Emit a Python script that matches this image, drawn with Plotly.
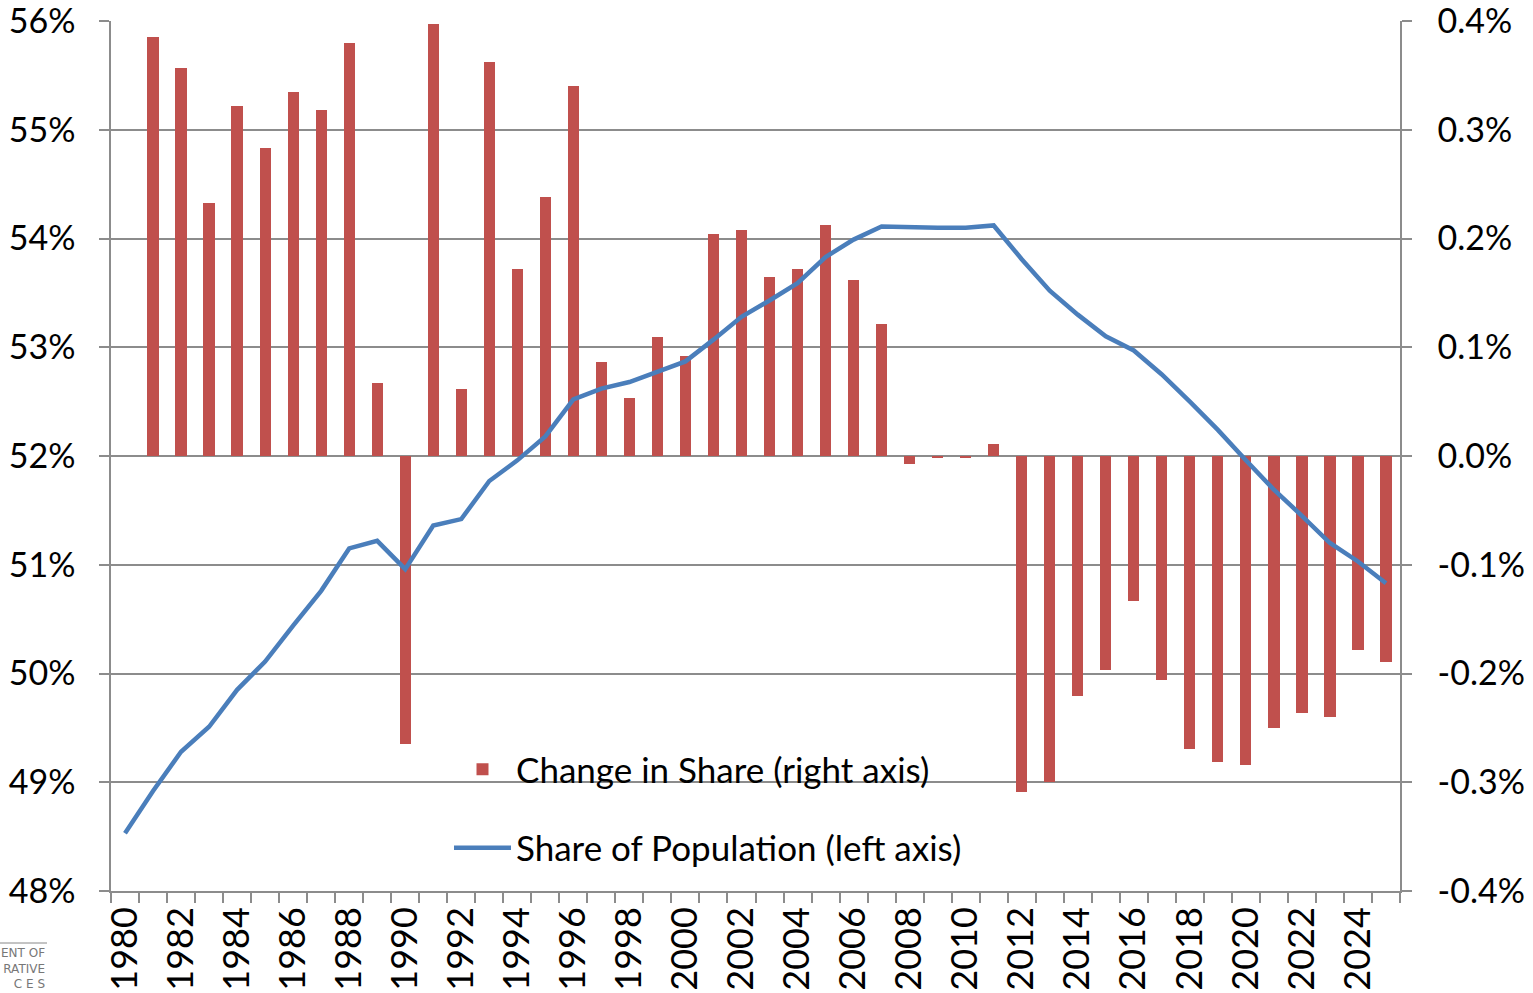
import plotly.graph_objects as go

years = list(range(1980, 2026))

change_in_share = [
    None, 0.385, 0.357, 0.233, 0.322, 0.283, 0.335, 0.318, 0.380, 0.067,
    -0.265, 0.397, 0.062, 0.362, 0.172, 0.238, 0.340, 0.086, 0.053, 0.109,
    0.092, 0.204, 0.208, 0.165, 0.172, 0.212, 0.162, 0.121, -0.007, -0.001,
    -0.001, 0.011, -0.309, -0.300, -0.221, -0.197, -0.133, -0.206, -0.269, -0.281,
    -0.284, -0.250, -0.236, -0.240, -0.178, -0.189,
]

share_of_population = [
    48.53, 48.92, 49.28, 49.51, 49.85, 50.11, 50.44, 50.76, 51.15, 51.22,
    50.96, 51.36, 51.42, 51.77, 51.96, 52.18, 52.52, 52.62, 52.68, 52.78,
    52.87, 53.07, 53.28, 53.43, 53.59, 53.83, 53.99, 54.11, 54.10, 54.10,
    54.10, 54.12, 53.81, 53.52, 53.30, 53.10, 52.97, 52.75, 52.50, 52.24,
    51.96, 51.69, 51.45, 51.20, 51.03, 50.83,
]

x_tick_years = list(range(1980, 2026, 2))
x_tick_labels = [str(y) for y in x_tick_years]

left_ticks = [48, 49, 50, 51, 52, 53, 54, 55, 56]
left_labels = ["48%", "49%", "50%", "51%", "52%", "53%", "54%", "55%", "56%"]

right_ticks = [-0.4, -0.3, -0.2, -0.1, 0.0, 0.1, 0.2, 0.3, 0.4]
right_labels = ["-0.4%", "-0.3%", "-0.2%", "-0.1%", "0.0%", "0.1%", "0.2%", "0.3%", "0.4%"]

FONT = "Lato, Carlito, 'Open Sans', sans-serif"
GRID = "#8C8C8C"

L, R, T, B = 111, 133, 21, 102
PW, PH = 1533 - L - R, 993 - T - B


def px_x(px):
    return (px - L) / PW


def px_y(py):
    return (T + PH - py) / PH


fig = go.Figure()

fig.add_trace(go.Bar(
    x=years, y=change_in_share,
    name="Change in Share (right axis)",
    marker=dict(color="#C0504D", line=dict(width=0)),
    width=0.4,
    yaxis="y",
    legendgroup="a",
))

fig.add_trace(go.Scatter(
    x=years, y=share_of_population,
    name="Share of Population (left axis)",
    mode="lines",
    line=dict(color="#4A7EBB", width=4.5),
    yaxis="y2",
    legendgroup="b",
))

fig.update_layout(
    width=1533, height=993,
    margin=dict(l=L, r=R, t=T, b=B, autoexpand=False),
    paper_bgcolor="white",
    plot_bgcolor="white",
    font=dict(family=FONT, size=34, color="black"),
    showlegend=True,
    bargap=0,
    xaxis=dict(
        range=[1979.5, 2025.5],
        tickmode="array",
        tickvals=x_tick_years,
        ticktext=x_tick_labels,
        tickangle=-90,
        ticks="",
        showgrid=False,
        zeroline=False,
        showline=True,
        linecolor=GRID,
        linewidth=1.5,
        automargin=False,
        ticklabeloverflow="allow",
        tickfont=dict(size=36),
        minor=dict(ticks="outside", tick0=1979.5, dtick=1, ticklen=10,
                   tickcolor=GRID, tickwidth=1.5, showgrid=False),
    ),
    yaxis=dict(
        side="right",
        range=[-0.4, 0.4],
        tickmode="array",
        tickvals=right_ticks,
        ticktext=right_labels,
        showgrid=True,
        gridcolor=GRID,
        gridwidth=1.5,
        zeroline=False,
        showline=True,
        linecolor=GRID,
        linewidth=1.5,
        ticks="outside",
        ticklen=10,
        tickcolor=GRID,
        tickwidth=1.5,
        ticklabelstandoff=19,
        automargin=False,
        ticklabeloverflow="allow",
        tickfont=dict(size=34),
    ),
    yaxis2=dict(
        side="left",
        overlaying="y",
        range=[48, 56],
        tickmode="array",
        tickvals=left_ticks,
        ticktext=left_labels,
        showgrid=False,
        zeroline=False,
        showline=True,
        linecolor=GRID,
        linewidth=1.5,
        ticks="outside",
        ticklen=10,
        tickcolor=GRID,
        tickwidth=1.5,
        ticklabelstandoff=17,
        automargin=False,
        ticklabeloverflow="allow",
        tickfont=dict(size=34),
    ),
    legend=dict(
        x=px_x(449), y=px_y(740), xanchor="left", yanchor="top",
        bgcolor="rgba(0,0,0,0)",
        traceorder="grouped",
        tracegroupgap=30,
        font=dict(size=35),
        itemwidth=57,
    ),
)

# white legend box that interrupts the gridline, like the original
fig.add_shape(
    type="rect", xref="paper", yref="paper",
    x0=px_x(417), x1=px_x(1006), y0=px_y(882), y1=px_y(742),
    fillcolor="white", line=dict(width=0), layer="between",
)

fig.add_annotation(
    text="ENT OF<br>RATIVE<br>C E S",
    xref="paper", yref="paper",
    x=px_x(47), y=px_y(944),
    xanchor="right", yanchor="top", align="right",
    showarrow=False,
    font=dict(family="'DejaVu Sans', sans-serif", size=12, color="#777777"),
)
fig.add_shape(
    type="line", xref="paper", yref="paper",
    x0=px_x(0), x1=px_x(47),
    y0=px_y(943), y1=px_y(943),
    line=dict(color="#888888", width=1),
)

fig.write_html(
    "out.html",
    config={"displayModeBar": False},
    post_script="document.body.style.margin='0';document.body.style.overflow='hidden';",
)
